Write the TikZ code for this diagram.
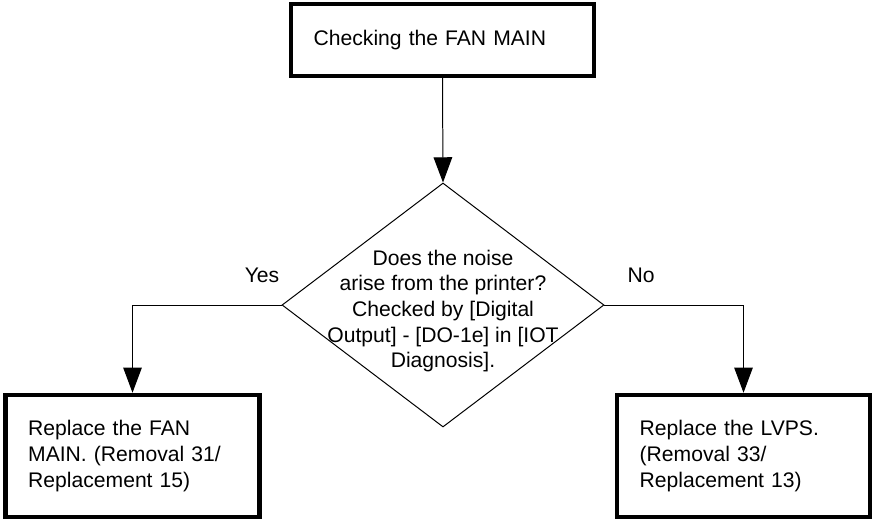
\documentclass[tikz,border=0pt]{standalone}
\usepackage{fontspec}
\setmainfont{Liberation Sans}
\usetikzlibrary{arrows.meta, shapes.geometric}

\begin{document}
\begin{tikzpicture}[
        process/.style={draw, line width=3.4pt, inner xsep=0.6cm, align=left, font=\fontsize{15.9}{19.3}\selectfont},
        decision/.style={diamond, draw, line width=0.75pt, minimum width=8.519cm, minimum height=6.456cm, inner sep=0pt},
        answer/.style={font=\fontsize{15.9}{19.3}\selectfont},
        flow/.style={line width=0.75pt, -{Triangle[length=19pt, width=14pt]}},
    ]
        \useasboundingbox (0,0) rectangle (23.098,-13.758);

        % Start box
        \node[process, text width=6.817cm, minimum height=1.905cm] (check) at (11.708,-1.058) {Checking the FAN MAIN};

        % Decision
        \node[decision] (question) at (11.721,-8.07) {};
        \node[answer, align=center] (questiontext) at (11.721,-8.228) {Does the noise\\arise from the printer?\\Checked by [Digital\\Output] - [DO-1e] in [IOT\\Diagnosis].};

        % Branch labels
        \node[answer] (yes) at (6.932,-7.276) {Yes};
        \node[answer] (no) at (16.96,-7.276) {No};

        % Result boxes
        \node[process, text width=5.52cm, minimum height=3.228cm] (fan) at (3.506,-12.065) {Replace the FAN\\MAIN. (Removal 31/\\Replacement 15)};
        \node[process, text width=5.494cm, minimum height=3.228cm] (lvps) at (19.672,-12.065) {Replace the LVPS.\\(Removal 33/\\Replacement 13)};

        % Connectors
        \draw[flow] (check.south) -- (question.north);
        \draw[flow] (question.west) -| (fan.north);
        \draw[flow] (question.east) -| (lvps.north);
    \end{tikzpicture}
\end{document}
